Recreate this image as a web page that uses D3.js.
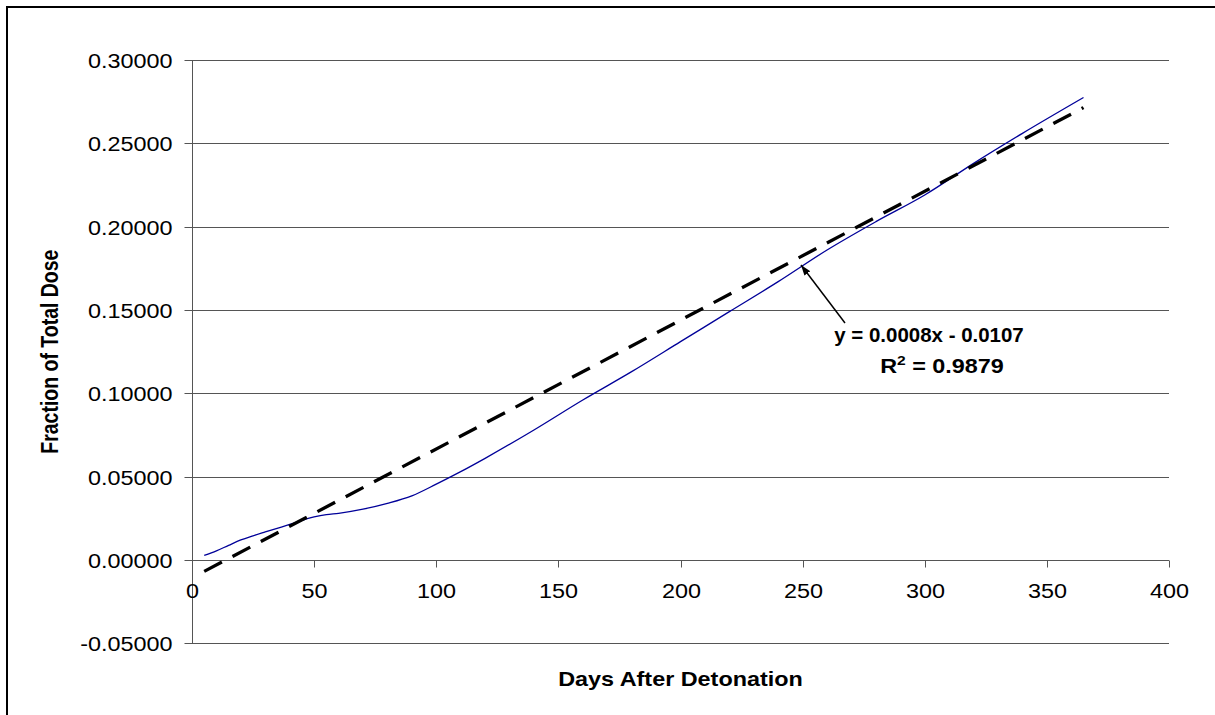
<!DOCTYPE html>
<html>
<head>
<meta charset="utf-8">
<script src="https://cdn.jsdelivr.net/npm/d3@7"></script>
<style>
  html, body { margin: 0; padding: 0; background: #fff; }
  svg { display: block; }
  text { font-family: "Liberation Sans", Arial, sans-serif; fill: #000; }
</style>
</head>
<body>
<svg id="chart" width="1215" height="715"></svg>
<script>
// Cumulative fraction of total dose vs. days after detonation
const days = [5, 10, 15, 20, 25, 30, 40, 50, 55, 60, 70, 80, 90, 100, 110, 120,
              140, 160, 180, 200, 220, 240, 260, 280, 300, 320, 340, 365];
const doseFraction = [0.0027, 0.0055, 0.0088, 0.0120, 0.0145, 0.0168, 0.0213, 0.0258,
                      0.0272, 0.0280, 0.0305, 0.0340, 0.0385, 0.0455, 0.0530, 0.0610,
                      0.0780, 0.0960, 0.1130, 0.1310, 0.1490, 0.1670, 0.1860, 0.2030,
                      0.2190, 0.2380, 0.2560, 0.2775];

// Linear trendline coefficients and goodness of fit
const trendSlope = 0.000773;
const trendIntercept = -0.0107;
const trendR2 = 0.9879;

const xTicks = [0, 50, 100, 150, 200, 250, 300, 350, 400];
const yTicks = [-0.05, 0, 0.05, 0.10, 0.15, 0.20, 0.25, 0.30];

const xTitle = "Days After Detonation";
const yTitle = "Fraction of Total Dose";

const svg = d3.select("#chart");
const plot = { left: 192, right: 1169, top: 60, bottom: 643.3 };
const FONT = 19.5, STRETCH = 1.2;

const x = d3.scaleLinear().domain([0, 400]).range([plot.left, plot.right]);
const y = d3.scaleLinear().domain([-0.05, 0.30]).range([plot.bottom, plot.top]);
const yFormat = d => d3.format(".5f")(d).replace("\u2212", "-");

// Outer chart frame (extends past the right and bottom edges)
svg.append("rect")
  .attr("x", 7).attr("y", 7).attr("width", 1400).attr("height", 900)
  .attr("fill", "none").attr("stroke", "#000").attr("stroke-width", 2);

// Horizontal gridlines
svg.append("g").selectAll("line").data(yTicks).join("line")
  .attr("x1", plot.left).attr("x2", plot.right)
  .attr("y1", d => Math.round(y(d)) + 0.5).attr("y2", d => Math.round(y(d)) + 0.5)
  .attr("stroke", "#555").attr("stroke-width", 1);

// Y axis
const yAxis = svg.append("g")
  .attr("transform", `translate(${Math.round(plot.left) + 0.5},0)`)
  .call(d3.axisLeft(y).tickValues(yTicks).tickSize(8).tickFormat(yFormat));
yAxis.select(".domain").attr("stroke", "#555").attr("d", `M0,${y(0.30)}V${y(-0.05)}`);
yAxis.selectAll(".tick line").attr("stroke", "#555");
yAxis.selectAll(".tick").attr("transform", d => `translate(0,${Math.round(y(d)) + 0.5})`);
yAxis.selectAll(".tick text")
  .attr("x", null).attr("dy", null)
  .attr("transform", `translate(-20,7) scale(${STRETCH},1)`)
  .style("font-size", FONT + "px").style("font-family", "'Liberation Sans', Arial, sans-serif")
  .attr("fill", "#000").attr("text-anchor", "end");

// X axis crossing at y = 0
const xAxis = svg.append("g")
  .attr("transform", `translate(0,${Math.round(y(0)) + 0.5})`)
  .call(d3.axisBottom(x).tickValues(xTicks).tickSize(7).tickFormat(d3.format("d")));
xAxis.select(".domain").attr("stroke", "#555").attr("d", `M${x(0)},0H${x(400)}`);
xAxis.selectAll(".tick line").attr("stroke", "#555");
xAxis.selectAll(".tick").attr("transform", d => `translate(${Math.round(x(d)) + 0.5},0)`);
xAxis.selectAll(".tick text")
  .attr("y", null).attr("dy", null)
  .attr("transform", `translate(0,37) scale(${STRETCH},1)`)
  .style("font-size", FONT + "px").style("font-family", "'Liberation Sans', Arial, sans-serif")
  .attr("fill", "#000").attr("text-anchor", "middle");

// Data series
const series = days.map((d, i) => [d, doseFraction[i]]);
svg.append("path")
  .datum(series)
  .attr("fill", "none").attr("stroke", "#000099").attr("stroke-width", 1.3)
  .attr("d", d3.line().x(d => x(d[0])).y(d => y(d[1])).curve(d3.curveMonotoneX));

// Linear trendline across the data range
const xMin = d3.min(days), xMax = d3.max(days);
const trend = [xMin, xMax].map(d => [d, trendSlope * d + trendIntercept]);
svg.append("path")
  .datum(trend)
  .attr("fill", "none").attr("stroke", "#000").attr("stroke-width", 3.3)
  .attr("stroke-dasharray", "20,12")
  .attr("d", d3.line().x(d => x(d[0])).y(d => y(d[1])));

// Trendline equation annotation with arrow
svg.append("defs").append("marker")
  .attr("id", "arrowHead").attr("viewBox", "0 0 10 10")
  .attr("refX", 10).attr("refY", 5)
  .attr("markerWidth", 7).attr("markerHeight", 7)
  .attr("orient", "auto")
  .append("path").attr("d", "M0,1.5L10,5L0,8.5Z").attr("fill", "#000");

svg.append("line")
  .attr("x1", 845).attr("y1", 323).attr("x2", 801).attr("y2", 265)
  .attr("stroke", "#000").attr("stroke-width", 1.5)
  .attr("marker-end", "url(#arrowHead)");

const eqText = `y = ${trendSlope.toFixed(4)}x - ${Math.abs(trendIntercept).toFixed(4)}`;
svg.append("text")
  .attr("transform", `translate(929,342) scale(1.05,1)`)
  .attr("text-anchor", "middle")
  .style("font-size", FONT + "px").style("font-weight", "bold")
  .text(eqText);

const r2 = svg.append("text")
  .attr("transform", `translate(942,373) scale(${STRETCH},1)`)
  .attr("text-anchor", "middle")
  .style("font-size", FONT + "px").style("font-weight", "bold");
r2.append("tspan").text("R");
r2.append("tspan").attr("dy", -8).style("font-size", "13px").text("2");
r2.append("tspan").attr("dy", 8).text(` = ${trendR2.toFixed(4)}`);

// Axis titles
svg.append("text")
  .attr("transform", `translate(${(plot.left + plot.right) / 2},686) scale(${STRETCH},1)`)
  .attr("text-anchor", "middle")
  .style("font-size", FONT + "px").style("font-weight", "bold")
  .text(xTitle);

svg.append("text")
  .attr("transform", `translate(58,${(plot.top + plot.bottom) / 2}) scale(${STRETCH},1) rotate(-90)`)
  .attr("text-anchor", "middle")
  .style("font-size", FONT + "px").style("font-weight", "bold")
  .text(yTitle);
</script>
</body>
</html>
